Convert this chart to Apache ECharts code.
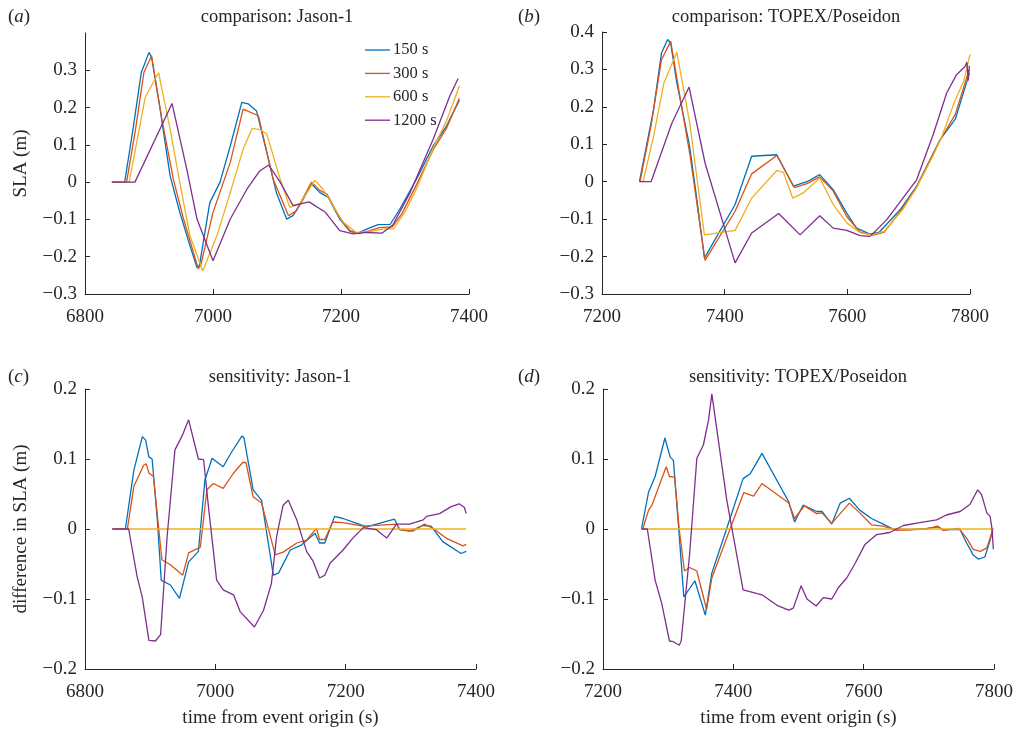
<!DOCTYPE html>
<html><head><meta charset="utf-8">
<script src="https://cdn.jsdelivr.net/npm/echarts@6/dist/echarts.min.js"></script>
<style>html,body{margin:0;padding:0;background:#fff}#c{width:1022px;height:734px}</style>
</head><body><div id="c"></div>
<script>
// ---------- data ----------
const seriesNames = ['150 s', '300 s', '600 s', '1200 s'];
const panelTitles = ['comparison: Jason-1', 'comparison: TOPEX/Poseidon', 'sensitivity: Jason-1', 'sensitivity: TOPEX/Poseidon'];
const panelLetters = ['a', 'b', 'c', 'd'];
const jasonTicks = [6800, 7000, 7200, 7400];
const topexTicks = [7200, 7400, 7600, 7800];
const slaTicksA = [-0.3, -0.2, -0.1, 0, 0.1, 0.2, 0.3];
const slaTicksB = [-0.3, -0.2, -0.1, 0, 0.1, 0.2, 0.3, 0.4];
const diffTicks = [-0.2, -0.1, 0, 0.1, 0.2];

// (a) comparison: Jason-1  [time s, SLA m]
const a150 = [[6842,0],[6862,0],[6875,0.142],[6888,0.294],[6900,0.348],[6904,0.335],[6917,0.2],[6933,0.017],[6948,-0.08],[6964,-0.171],[6975,-0.229],[6979,-0.222],[6995,-0.055],[7011,0],[7027,0.097],[7045,0.214],[7055,0.21],[7068,0.191],[7084,0.08],[7099,-0.028],[7115,-0.099],[7125,-0.09],[7141,-0.046],[7154,-0.005],[7167,-0.028],[7180,-0.041],[7198,-0.099],[7214,-0.132],[7226,-0.137],[7240,-0.126],[7258,-0.114],[7277,-0.113],[7292,-0.072],[7318,0.008],[7344,0.097],[7365,0.151],[7385,0.22]];
const a300 = [[6842,0],[6865,0],[6879,0.142],[6892,0.294],[6904,0.339],[6920,0.17],[6938,0.008],[6954,-0.099],[6977,-0.233],[6981,-0.222],[7000,-0.081],[7027,0.053],[7047,0.196],[7071,0.178],[7094,0.008],[7118,-0.09],[7130,-0.077],[7154,0],[7167,-0.022],[7178,-0.032],[7198,-0.095],[7214,-0.13],[7228,-0.138],[7245,-0.13],[7260,-0.122],[7280,-0.12],[7295,-0.085],[7320,0],[7345,0.09],[7365,0.145],[7385,0.225]];
const a600 = [[6842,0],[6869,0],[6894,0.227],[6915,0.294],[6933,0.142],[6948,0],[6964,-0.144],[6984,-0.238],[7006,-0.144],[7027,-0.028],[7047,0.088],[7061,0.144],[7075,0.14],[7084,0.129],[7105,0.008],[7120,-0.068],[7136,-0.057],[7159,0.005],[7172,-0.019],[7203,-0.107],[7224,-0.135],[7245,-0.133],[7265,-0.126],[7282,-0.125],[7300,-0.08],[7320,-0.01],[7345,0.095],[7365,0.165],[7385,0.258]];
const a1200 = [[6842,0],[6878,0],[6936,0.211],[6959,0.035],[6975,-0.099],[7000,-0.211],[7027,-0.099],[7053,-0.019],[7073,0.03],[7087,0.046],[7105,0],[7125,-0.063],[7150,-0.053],[7175,-0.08],[7198,-0.13],[7219,-0.139],[7240,-0.135],[7264,-0.137],[7281,-0.115],[7308,-0.028],[7344,0.115],[7370,0.231],[7383,0.278]];

// (b) comparison: TOPEX/Poseidon
const b150 = [[7261,0],[7284,0.192],[7297,0.344],[7307,0.38],[7312,0.37],[7322,0.264],[7343,0.094],[7354,-0.039],[7367,-0.204],[7417,-0.061],[7444,0.068],[7485,0.072],[7512,-0.012],[7534,0],[7555,0.019],[7577,-0.021],[7599,-0.084],[7615,-0.124],[7637,-0.14],[7652,-0.135],[7686,-0.075],[7713,-0.012],[7735,0.059],[7751,0.112],[7776,0.167],[7795,0.268],[7799,0.29]];
const b300 = [[7262,0],[7280,0.15],[7297,0.326],[7312,0.375],[7327,0.228],[7343,0.076],[7368,-0.21],[7417,-0.079],[7444,0.021],[7485,0.07],[7514,-0.016],[7534,-0.005],[7555,0.013],[7577,-0.025],[7599,-0.093],[7621,-0.135],[7643,-0.143],[7660,-0.135],[7686,-0.08],[7713,-0.015],[7735,0.058],[7751,0.11],[7776,0.18],[7795,0.28],[7799,0.3]];
const b600 = [[7267,0],[7284,0.121],[7301,0.264],[7322,0.346],[7343,0.157],[7367,-0.142],[7417,-0.13],[7444,-0.044],[7485,0.03],[7496,0.024],[7511,-0.044],[7528,-0.03],[7555,0.01],[7577,-0.061],[7599,-0.11],[7621,-0.136],[7640,-0.142],[7660,-0.133],[7690,-0.075],[7713,-0.015],[7740,0.07],[7755,0.125],[7773,0.206],[7790,0.27],[7800,0.34]];
const b1200 = [[7261,0],[7280,0],[7314,0.157],[7342,0.253],[7368,0.05],[7417,-0.217],[7444,-0.137],[7488,-0.085],[7523,-0.142],[7555,-0.091],[7577,-0.124],[7599,-0.13],[7621,-0.144],[7637,-0.146],[7664,-0.102],[7713,0.005],[7740,0.126],[7762,0.237],[7778,0.286],[7792,0.308],[7795,0.32],[7797,0.27],[7799,0.31]];

// (c) sensitivity: Jason-1 (difference from 600 s)
const c150 = [[6842,0],[6862,0],[6875,0.084],[6888,0.132],[6893,0.127],[6898,0.103],[6903,0.1],[6911,0.013],[6917,-0.073],[6931,-0.08],[6945,-0.099],[6959,-0.047],[6974,-0.032],[6984,0.07],[6995,0.101],[7012,0.089],[7025,0.11],[7041,0.133],[7044,0.13],[7058,0.056],[7071,0.041],[7089,-0.066],[7097,-0.063],[7115,-0.03],[7132,-0.023],[7153,-0.006],[7160,-0.02],[7168,-0.02],[7183,0.018],[7196,0.015],[7217,0.008],[7232,0.003],[7275,0.014],[7283,-0.001],[7298,-0.003],[7319,0.005],[7331,0.004],[7349,-0.018],[7377,-0.035],[7385,-0.032]];
const c300 = [[6842,0],[6865,0],[6875,0.061],[6890,0.091],[6894,0.093],[6898,0.08],[6905,0.075],[6918,-0.044],[6931,-0.051],[6950,-0.066],[6959,-0.034],[6977,-0.026],[6987,0.056],[6997,0.065],[7012,0.058],[7028,0.08],[7042,0.095],[7047,0.095],[7058,0.046],[7071,0.037],[7092,-0.037],[7104,-0.033],[7125,-0.02],[7140,-0.016],[7155,0.001],[7160,-0.015],[7168,-0.015],[7180,0.01],[7196,0.009],[7227,0.004],[7278,0.007],[7283,-0.001],[7303,-0.003],[7321,0.007],[7334,0.001],[7354,-0.013],[7380,-0.024],[7385,-0.022]];
const c600 = [[6842,0],[7385,0]];
const c1200 = [[6842,0],[6867,0],[6880,-0.068],[6888,-0.098],[6898,-0.159],[6908,-0.16],[6916,-0.151],[6926,-0.011],[6938,0.113],[6949,0.133],[6959,0.156],[6974,0.1],[6982,0.099],[6990,0.027],[7002,-0.073],[7012,-0.087],[7028,-0.094],[7038,-0.118],[7060,-0.14],[7074,-0.116],[7086,-0.078],[7094,-0.011],[7104,0.034],[7112,0.041],[7125,0.013],[7140,-0.032],[7150,-0.046],[7160,-0.07],[7168,-0.066],[7176,-0.049],[7196,-0.03],[7211,-0.013],[7227,0.002],[7247,-0.001],[7263,-0.013],[7278,0.007],[7298,0.007],[7319,0.013],[7324,0.018],[7344,0.022],[7362,0.032],[7374,0.036],[7382,0.031],[7385,0.022]];

// (d) sensitivity: TOPEX/Poseidon (difference from 600 s)
const d150 = [[7259,0],[7270,0.053],[7280,0.075],[7295,0.13],[7303,0.103],[7308,0.098],[7316,0.003],[7324,-0.097],[7333,-0.085],[7341,-0.074],[7357,-0.123],[7367,-0.063],[7390,0.001],[7415,0.072],[7426,0.079],[7444,0.108],[7485,0.039],[7494,0.01],[7507,0.034],[7528,0.025],[7536,0.025],[7551,0.007],[7564,0.037],[7578,0.044],[7594,0.027],[7612,0.015],[7630,0.007],[7645,0],[7671,-0.001],[7697,0.001],[7714,0.003],[7722,-0.001],[7748,-0.001],[7758,-0.02],[7768,-0.037],[7776,-0.043],[7786,-0.04],[7791,-0.025],[7798,-0.003]];
const d300 = [[7261,0],[7270,0.027],[7275,0.034],[7297,0.089],[7302,0.075],[7310,0.074],[7317,-0.001],[7325,-0.06],[7333,-0.055],[7344,-0.06],[7359,-0.115],[7367,-0.07],[7395,0],[7416,0.052],[7431,0.047],[7444,0.065],[7485,0.037],[7494,0.015],[7509,0.033],[7528,0.022],[7536,0.023],[7551,0.008],[7578,0.037],[7594,0.023],[7612,0.006],[7630,0.004],[7650,-0.002],[7697,0],[7714,0.004],[7722,-0.002],[7746,0.001],[7758,-0.013],[7768,-0.029],[7779,-0.032],[7789,-0.027],[7794,-0.013],[7798,0]];
const d600 = [[7259,0],[7800,0]];
const d1200 = [[7259,0],[7268,0],[7280,-0.073],[7290,-0.106],[7302,-0.16],[7308,-0.161],[7317,-0.166],[7320,-0.16],[7333,-0.035],[7344,0.101],[7354,0.12],[7362,0.156],[7367,0.193],[7390,0.041],[7415,-0.087],[7444,-0.094],[7467,-0.109],[7485,-0.116],[7492,-0.113],[7504,-0.081],[7513,-0.1],[7527,-0.11],[7538,-0.098],[7551,-0.1],[7561,-0.084],[7574,-0.07],[7587,-0.049],[7602,-0.022],[7620,-0.008],[7640,-0.005],[7661,0.005],[7686,0.009],[7712,0.013],[7727,0.02],[7748,0.025],[7763,0.035],[7775,0.056],[7781,0.049],[7789,0.023],[7794,0.018],[7797,0],[7799,-0.029]];

// ---------- styling ----------
const colors = ['#0072BD', '#D95319', '#EDB120', '#7E2F8E'];
const FONT = 'Liberation Serif';
const INK = '#262626';
const FS = 19;
const grids = [
  {left: 85, top: 33, width: 384, height: 261},
  {left: 602, top: 32, width: 368, height: 262},
  {left: 85, top: 389, width: 391, height: 280},
  {left: 603, top: 389, width: 391, height: 280}
];
const fmt = v => Math.abs(v) < 1e-9 ? '0' : (v < 0 ? '\u2212' : '') + Math.abs(v).toFixed(1);

function xAx(i, ticks, name) {
  return {
    type: 'value', gridIndex: i, min: ticks[0], max: ticks[ticks.length - 1], interval: 200,
    axisLine: {show: true, onZero: false, lineStyle: {color: INK, width: 1}},
    axisTick: {show: true, inside: true, length: 5, lineStyle: {color: INK}},
    splitLine: {show: false},
    axisLabel: {color: INK, fontFamily: FONT, fontSize: FS, margin: 14, formatter: v => String(v)},
    name: name || '', nameLocation: 'middle', nameGap: 40,
    nameTextStyle: {color: INK, fontFamily: FONT, fontSize: FS}
  };
}
function yAx(i, ticks, max, name) {
  return {
    type: 'value', gridIndex: i, min: ticks[0], max: max, interval: 0.1,
    axisLine: {show: true, onZero: false, lineStyle: {color: INK, width: 1}},
    axisTick: {show: true, inside: true, length: 5, lineStyle: {color: INK}, customValues: ticks},
    splitLine: {show: false},
    axisLabel: {color: INK, fontFamily: FONT, fontSize: FS, margin: 8, formatter: fmt, customValues: ticks},
    name: name || '', nameLocation: 'middle', nameGap: 54, nameRotate: 90,
    nameTextStyle: {color: INK, fontFamily: FONT, fontSize: FS}
  };
}
function line(name, data, gi, ci) {
  return {
    type: 'line', name: name, data: data, xAxisIndex: gi, yAxisIndex: gi,
    symbol: 'none', showSymbol: false, smooth: false, animation: false,
    lineStyle: {width: 1.3, color: colors[ci]}, itemStyle: {color: colors[ci]},
    emphasis: {disabled: true}
  };
}
const panels = [[a150, a300, a600, a1200], [b150, b300, b600, b1200], [c150, c300, c600, c1200], [d150, d300, d600, d1200]];
const series = [];
panels.forEach((p, gi) => p.forEach((d, k) => series.push(line(seriesNames[k], d, gi, k))));

const titleXY = [[277, 17], [786, 17], [280, 377], [798, 377]];
const letterXY = [[8, 17], [518, 17], [8, 377], [518, 377]];
const graphic = [];
panelTitles.forEach((t, i) => graphic.push({
  type: 'text', x: titleXY[i][0], y: titleXY[i][1],
  style: {text: t, fill: INK, font: '18.5px "' + FONT + '"', textAlign: 'center', textVerticalAlign: 'middle'}
}));
panelLetters.forEach((l, i) => graphic.push({
  type: 'text', x: letterXY[i][0], y: letterXY[i][1],
  style: {text: '{p|(}{i|' + l + '}{p|)}', textVerticalAlign: 'middle',
    rich: {p: {fontFamily: FONT, fontSize: 19, fill: INK, color: INK}, i: {fontFamily: FONT, fontSize: 19, fontStyle: 'italic', fill: INK, color: INK}}}
}));
// legend (key) inside panel (a)
seriesNames.forEach((n, k) => {
  const y = 50 + k * 23.4;
  graphic.push({type: 'line', shape: {x1: 365, y1: y, x2: 390, y2: y}, style: {stroke: colors[k], lineWidth: 1.3}});
  graphic.push({type: 'text', x: 393, y: y, style: {text: n, fill: INK, font: '16.5px "' + FONT + '"', textVerticalAlign: 'middle'}});
});

const chart = echarts.init(document.getElementById('c'), null, {renderer: 'canvas'});
chart.setOption({
  animation: false,
  backgroundColor: '#fff',
  grid: grids.map(g => Object.assign({containLabel: false, outerBoundsMode: 'none'}, g)),
  xAxis: [xAx(0, jasonTicks), xAx(1, topexTicks), xAx(2, jasonTicks, 'time from event origin (s)'), xAx(3, topexTicks, 'time from event origin (s)')],
  yAxis: [yAx(0, slaTicksA, 0.4, 'SLA (m)'), yAx(1, slaTicksB, 0.4), yAx(2, diffTicks, 0.2, 'difference in SLA (m)'), yAx(3, diffTicks, 0.2)],
  graphic: graphic,
  series: series
});
</script></body></html>
